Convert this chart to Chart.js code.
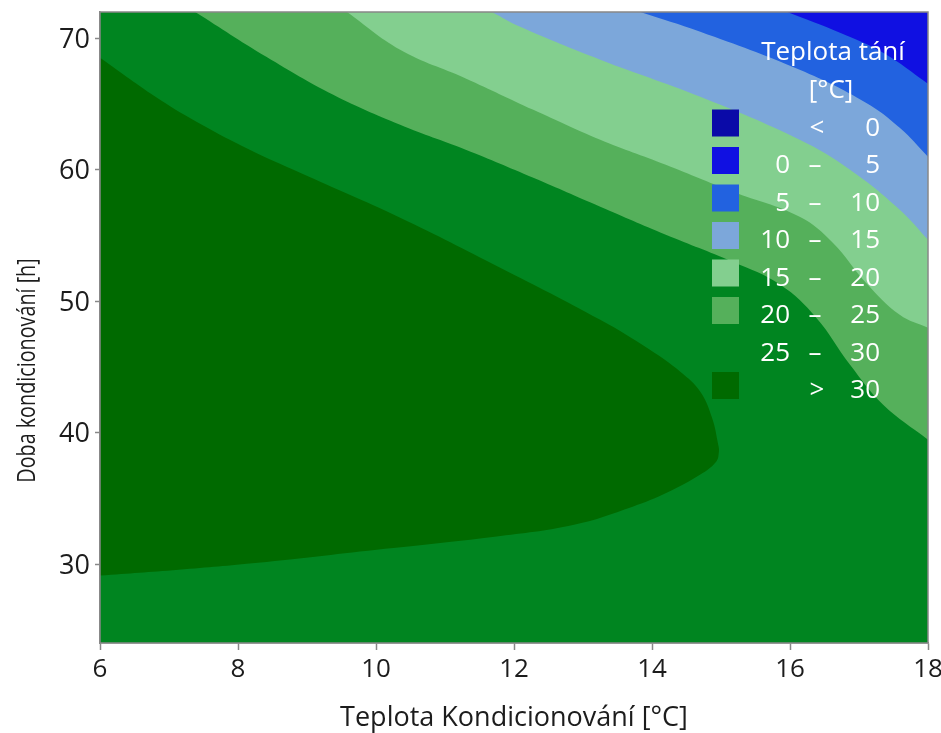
<!DOCTYPE html>
<html>
<head>
<meta charset="utf-8">
<title>Teplota tání</title>
<script src="https://cdn.jsdelivr.net/npm/chart.js@4/dist/chart.umd.min.js"></script>
<style>
  html, body { margin: 0; padding: 0; background: #ffffff; overflow: hidden; }
  #c { display: block; }
</style>
</head>
<body>
<canvas id="c" width="941" height="733"></canvas>
<script>
// Axis ticks
const tempTicks = [6, 8, 10, 12, 14, 16, 18];
const timeTicks = [30, 40, 50, 60, 70];
const tempRange = [6, 18];
const timeRange = [24, 72];

// Contour boundaries (temperature °C on x, time h on y)
// 25–30 / 20–25
const b20X = [7.38, 8.41, 9.38, 10.35, 11.30, 12.28, 13.25, 14.20, 15.17, 15.86, 16.38, 16.87, 17.35, 18.0];
const b20Y = [72.0, 68.59, 65.70, 63.42, 61.52, 59.39, 57.19, 55.06, 53.0, 51.25, 48.75, 45.17, 42.13, 39.47];
// 20–25 / 15–20
const b15X = [9.58, 10.35, 11.30, 12.28, 13.25, 14.20, 15.17, 16.14, 16.62, 17.10, 17.59, 18.0];
const b15Y = [72.0, 69.13, 66.95, 64.56, 62.28, 60.38, 58.33, 56.43, 54.45, 51.41, 48.97, 47.98];
// 15–20 / 10–15
const b10X = [11.68, 12.09, 13.25, 14.70, 16.14, 16.87, 17.59, 18.0];
const b10Y = [72.0, 70.87, 68.37, 65.55, 62.28, 60.0, 56.96, 54.68];
// 10–15 / 5–10
const b5X = [13.83, 14.70, 16.14, 17.10, 17.59, 18.0];
const b5Y = [72.0, 70.49, 67.60, 65.10, 63.19, 60.99];
// 5–10 / 0–5
const b0X = [15.96, 16.62, 17.35, 18.0];
const b0Y = [72.0, 70.65, 68.90, 66.54];
// region above 30 °C (closed outline: upper edge, then lower edge back)
const hotX = [6.0, 6.87, 7.45, 8.17, 8.90, 10.35, 11.80, 13.25, 13.97, 14.41, 14.70, 14.87, 14.96, 14.97,
              14.93, 14.70, 14.22, 13.72, 12.87, 11.72, 10.01, 8.29, 7.14, 6.0];
const hotY = [68.52, 65.32, 63.50, 61.52, 59.77, 56.35, 52.55, 48.59, 46.31, 44.64, 43.12, 41.14, 39.09, 38.56,
              37.79, 36.81, 35.44, 34.37, 33.0, 32.09, 31.10, 30.11, 29.58, 29.13];

// Key entries, coldest first
const keyLow = ['', '0', '5', '10', '15', '20', '25', ''];
const keySep = ['<', '–', '–', '–', '–', '–', '–', '>'];
const keyHigh = ['0', '5', '10', '15', '20', '25', '30', '30'];
const bandColors = ['#0a0aa8', '#1010e2', '#2262e0', '#7ca7da', '#83cf8f', '#55b05b', '#008520', '#006a00'];

const xTitle = 'Teplota Kondicionování [°C]';
const yTitle = 'Doba kondicionování [h]';
const keyTitle = ['Teplota tání', '[°C]'];

const pts = (xs, ys) => xs.map((x, i) => ({ x: x, y: ys[i] }));

function band(xs, ys, color, order) {
  return {
    data: pts(xs, ys),
    backgroundColor: color,
    borderColor: 'transparent',
    borderWidth: 0,
    pointRadius: 0,
    tension: 0.4,
    fill: 'end',
    order: order
  };
}

const axisGray = '#888888';
const textDark = '#1c1c1c';
const fontFamily = '"Open Sans", sans-serif';

const plotBackground = {
  id: 'plotBackground',
  beforeDatasetsDraw(chart) {
    const { ctx, chartArea: a } = chart;
    ctx.save();
    ctx.fillStyle = bandColors[6];
    ctx.fillRect(a.left, a.top, a.right - a.left, a.bottom - a.top);
    ctx.restore();
  }
};

const plotFrame = {
  id: 'plotFrame',
  afterDraw(chart) {
    const { ctx, chartArea: a } = chart;
    ctx.save();
    ctx.strokeStyle = axisGray;
    ctx.lineWidth = 1.5;
    ctx.strokeRect(a.left, a.top, a.right - a.left, a.bottom - a.top);
    ctx.restore();
  }
};

// vertical axis title, narrow lettering, centred on the whole figure height
const sideTitle = {
  id: 'sideTitle',
  afterDraw(chart) {
    const { ctx } = chart;
    ctx.save();
    ctx.translate(35, chart.height / 2 + 4);
    ctx.rotate(-Math.PI / 2);
    ctx.scale(0.76, 1);
    ctx.fillStyle = textDark;
    ctx.font = '26px ' + fontFamily;
    ctx.textAlign = 'center';
    ctx.textBaseline = 'alphabetic';
    ctx.fillText(yTitle, 0, 0);
    ctx.restore();
  }
};

const contourKey = {
  id: 'contourKey',
  afterDatasetsDraw(chart) {
    const { ctx, chartArea: a } = chart;
    const r = a.right;
    ctx.save();
    ctx.fillStyle = '#ffffff';
    ctx.font = '26px ' + fontFamily;
    ctx.textBaseline = 'alphabetic';
    ctx.textAlign = 'center';
    ctx.fillText(keyTitle[0], r - 95, a.top + 48);
    ctx.fillText(keyTitle[1], r - 97, a.top + 86);
    const rowTop = a.top + 111;
    const step = 37.5;
    for (let i = 0; i < keyHigh.length; i++) {
      const cy = rowTop + i * step;
      if (i !== 6) {
        ctx.fillStyle = bandColors[i];
        ctx.fillRect(r - 216, cy - 13.5, 27, 27);
      }
      const base = cy + 12.5;
      ctx.fillStyle = '#ffffff';
      ctx.textAlign = 'right';
      if (keyLow[i]) ctx.fillText(keyLow[i], r - 138, base);
      ctx.textAlign = 'center';
      ctx.fillText(keySep[i], keyLow[i] ? r - 113 : r - 111, base);
      ctx.textAlign = 'right';
      ctx.fillText(keyHigh[i], r - 48, base);
    }
    ctx.restore();
  }
};

new Chart(document.getElementById('c'), {
  type: 'line',
  data: {
    datasets: [
      band(b0X, b0Y, bandColors[1], 1),
      band(b5X, b5Y, bandColors[2], 2),
      band(b10X, b10Y, bandColors[3], 3),
      band(b15X, b15Y, bandColors[4], 4),
      band(b20X, b20Y, bandColors[5], 5),
      {
        data: pts(hotX, hotY),
        backgroundColor: bandColors[7],
        borderColor: 'transparent',
        borderWidth: 0,
        pointRadius: 0,
        tension: 0.4,
        fill: 'shape',
        order: 6
      }
    ]
  },
  options: {
    responsive: false,
    animation: false,
    events: [],
    layout: { padding: { top: 12, right: 13, left: 0, bottom: 0 } },
    plugins: { legend: { display: false }, tooltip: { enabled: false } },
    scales: {
      x: {
        type: 'linear',
        min: tempRange[0],
        max: tempRange[1],
        afterBuildTicks: s => { s.ticks = tempTicks.map(v => ({ value: v })); },
        afterFit: s => { s.height = 90; s.paddingLeft = 0; s.paddingRight = 0; },
        border: { display: true, color: axisGray, width: 1.5 },
        grid: { display: true, drawOnChartArea: false, drawTicks: true, tickLength: 7, tickWidth: 1.5, color: axisGray },
        ticks: { color: textDark, padding: 4, maxRotation: 0, font: { family: fontFamily, size: 26 } },
        title: {
          display: true,
          text: xTitle,
          color: textDark,
          padding: { top: 0, bottom: 0 },
          font: { family: fontFamily, size: 27, lineHeight: 1.1 }
        }
      },
      y: {
        type: 'linear',
        min: timeRange[0],
        max: timeRange[1],
        afterBuildTicks: s => { s.ticks = timeTicks.map(v => ({ value: v })); },
        afterFit: s => { s.width = 100; s.paddingTop = 0; s.paddingBottom = 0; },
        border: { display: true, color: axisGray, width: 1.5 },
        grid: { display: true, drawOnChartArea: false, drawTicks: true, tickLength: 5, tickWidth: 1.5, color: axisGray },
        ticks: { color: textDark, padding: 5, labelOffset: 2, font: { family: fontFamily, size: 27 } },
        title: { display: false }
      }
    }
  },
  plugins: [plotBackground, plotFrame, contourKey, sideTitle]
});
</script>
</body>
</html>
